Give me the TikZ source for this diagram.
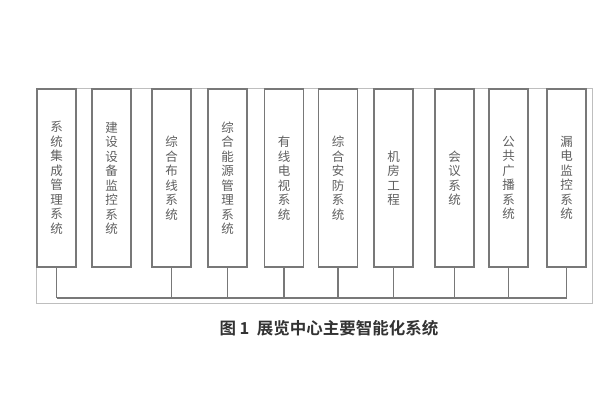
\documentclass[tikz,border=0pt]{standalone}
\usepackage{fontspec}
\setmainfont{Noto Sans CJK SC}
\newfontfamily\capfont{Noto Sans CJK SC Bold}
\definecolor{framegray}{RGB}{190,190,190}
\definecolor{boxgray}{RGB}{120,120,120}
\definecolor{textgray}{RGB}{95,95,95}
\begin{document}
\begin{tikzpicture}[x=1pt, y=-1pt,
  sysbox/.style={draw=boxgray, line width=1.4pt, minimum width=39pt, minimum height=178pt,
    inner sep=0pt, align=center, text=textgray, font=\fontsize{12.5}{14.5}\selectfont},
  link/.style={draw=boxgray, line width=1.2pt}]
\useasboundingbox (0,0) rectangle (600,400);
% Outer frame
\draw[framegray, line width=0.8pt] (36,88) rectangle (592,303);

% Subsystems
\node[sysbox] (b1) at (56.5,178) {系\\统\\集\\成\\管\\理\\系\\统};
\node[sysbox] (b2) at (111.5,178) {建\\设\\设\\备\\监\\控\\系\\统};
\node[sysbox] (b3) at (171.5,178) {综\\合\\布\\线\\系\\统};
\node[sysbox] (b4) at (227.5,178) {综\\合\\能\\源\\管\\理\\系\\统};
\node[sysbox] (b5) at (284,178) {有\\线\\电\\视\\系\\统};
\node[sysbox] (b6) at (338,178) {综\\合\\安\\防\\系\\统};
\node[sysbox] (b7) at (393.5,178) {机\\房\\工\\程};
\node[sysbox] (b8) at (454.5,178) {会\\议\\系\\统};
\node[sysbox] (b9) at (508.5,178) {公\\共\\广\\播\\系\\统};
\node[sysbox] (b10) at (566.5,178) {漏\\电\\监\\控\\系\\统};

% Bus line
\coordinate (bus) at (0,298);
\draw[link] (b1.south |- bus) -- (b10.south |- bus);
\foreach \b in {b1,b3,b4,b5,b6,b7,b8,b9,b10}
  \draw[link] (\b.south) -- (\b.south |- bus);

% Caption
\node[font=\capfont\fontsize{16.5}{18}\selectfont, text=black!80] (cap) at (329,328) {图 1\ \ 展览中心主要智能化系统};
\end{tikzpicture}
\end{document}
